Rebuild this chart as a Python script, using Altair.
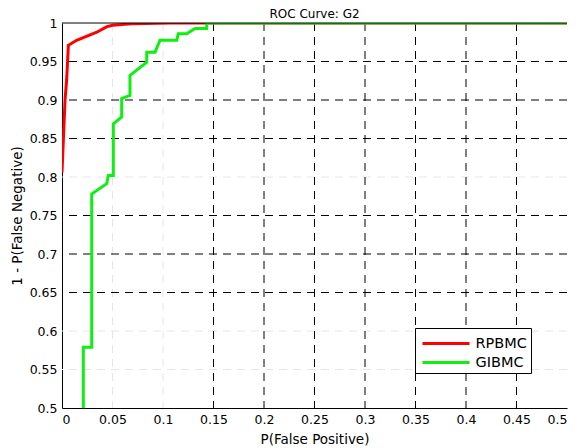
import altair as alt
import pandas as pd

# RPBMC curve (false positive rate, 1 - false negative rate)
red_fp = [0.0, 0.003, 0.0046, 0.0063, 0.0145, 0.0344, 0.044, 0.050, 0.069, 0.107, 0.5]
red_tp = [0.806, 0.900, 0.926, 0.971, 0.9775, 0.988, 0.995, 0.997, 0.999, 1.0, 1.0]

# GIBMC curve
green_fp = [0.0211, 0.0211, 0.0294, 0.0294, 0.0443, 0.0458, 0.0508, 0.0508, 0.0591,
            0.0591, 0.0673, 0.0673, 0.0839, 0.0839, 0.0921, 0.097, 0.1136, 0.1151,
            0.1235, 0.1317, 0.1433, 0.1433, 0.5]
green_tp = [0.5, 0.579, 0.579, 0.778, 0.7914, 0.802, 0.802, 0.869, 0.878,
            0.902, 0.906, 0.932, 0.949, 0.962, 0.962, 0.9775, 0.9775, 0.986,
            0.986, 0.993, 0.993, 1.0, 1.0]

series_names = ["RPBMC", "GIBMC"]
series_colors = ["#ff0000", "#11ee11"]

x_ticks = [0, 0.05, 0.1, 0.15, 0.2, 0.25, 0.3, 0.35, 0.4, 0.45, 0.5]
y_ticks = [0.5, 0.55, 0.6, 0.65, 0.7, 0.75, 0.8, 0.85, 0.9, 0.95, 1.0]

x_grid_dark = [0.15, 0.2, 0.25, 0.3, 0.35, 0.4, 0.45]
x_grid_faint = [0.05, 0.1]
y_grid_dark = [0.65, 0.7, 0.75, 0.85, 0.9, 0.95]
y_grid_faint = [0.55, 0.6, 0.8]

FONT = "DejaVu Sans"

red_df = pd.DataFrame({"fp": red_fp, "tp": red_tp, "series": "RPBMC", "i": range(len(red_fp))})
green_df = pd.DataFrame({"fp": green_fp, "tp": green_tp, "series": "GIBMC", "i": range(len(green_fp))})

xscale = alt.Scale(domain=[0, 0.5], nice=False, zero=False)
yscale = alt.Scale(domain=[0.5, 1.0], nice=False, zero=False)

x_axis = alt.Axis(values=x_ticks, format="~g", title="P(False Positive)",
                  titlePadding=7, labelOverlap=False)
y_axis = alt.Axis(values=y_ticks, format="~g", title="1 - P(False Negative)",
                  titleX=-38, titleY=192.5, titleAlign="center",
                  titleBaseline="bottom", labelOverlap=False)

x_enc = alt.X("fp:Q", scale=xscale, axis=x_axis)
y_enc = alt.Y("tp:Q", scale=yscale, axis=y_axis)

color_enc = alt.Color(
    "series:N",
    scale=alt.Scale(domain=series_names, range=series_colors),
    legend=alt.Legend(
        title=None, orient="none", legendX=353, legendY=305,
        strokeColor="black", fillColor="white", padding=4,
        symbolType="M-2.35,0H2.35", symbolStrokeWidth=3, symbolSize=400,
        symbolOffset=15.5,
        labelFont=FONT, labelFontSize=14.5, labelColor="black", labelOffset=18,
        rowPadding=1,
    ),
)

vgrid_dark = alt.Chart(pd.DataFrame({"fp": x_grid_dark})).mark_rule(
    color="black", strokeWidth=1, strokeDash=[8, 6]).encode(x=x_enc)
vgrid_faint = alt.Chart(pd.DataFrame({"fp": x_grid_faint})).mark_rule(
    color="#e6e6e6", strokeWidth=1, strokeDash=[8, 6]).encode(x=x_enc)
hgrid_dark = alt.Chart(pd.DataFrame({"tp": y_grid_dark})).mark_rule(
    color="black", strokeWidth=1, strokeDash=[8, 6]).encode(y=y_enc)
hgrid_faint = alt.Chart(pd.DataFrame({"tp": y_grid_faint})).mark_rule(
    color="#e6e6e6", strokeWidth=1, strokeDash=[8, 6]).encode(y=y_enc)

red_line = alt.Chart(red_df).mark_line(strokeWidth=3, clip=True).encode(
    x=x_enc, y=y_enc, color=color_enc, order="i:Q")
green_line = alt.Chart(green_df).mark_line(strokeWidth=3, clip=True).encode(
    x=x_enc, y=y_enc, color=color_enc, order="i:Q")

top_line = alt.Chart(pd.DataFrame({"tp": [1.0]})).mark_rule(
    color="black", strokeWidth=1).encode(y=y_enc)

chart = alt.layer(
    vgrid_faint, hgrid_faint, vgrid_dark, hgrid_dark, red_line, green_line, top_line
).properties(
    width=505, height=385,
    title=alt.TitleParams("ROC Curve: G2", font=FONT, fontSize=12, fontWeight="normal",
                          color="black", anchor="middle", offset=-4),
    autosize=alt.AutoSizeParams(type="none"),
    padding={"left": 54, "top": 15, "right": 7, "bottom": 40},
).configure_view(stroke=None).configure_axis(
    labelFont=FONT, labelFontSize=12.5, labelColor="black", labelPadding=5,
    titleFont=FONT, titleFontSize=13.5, titleFontWeight="normal", titleColor="black",
    domainColor="black", domainWidth=1, ticks=False, grid=False,
)

chart.save("out.html", embed_options={"renderer": "svg", "actions": False})
